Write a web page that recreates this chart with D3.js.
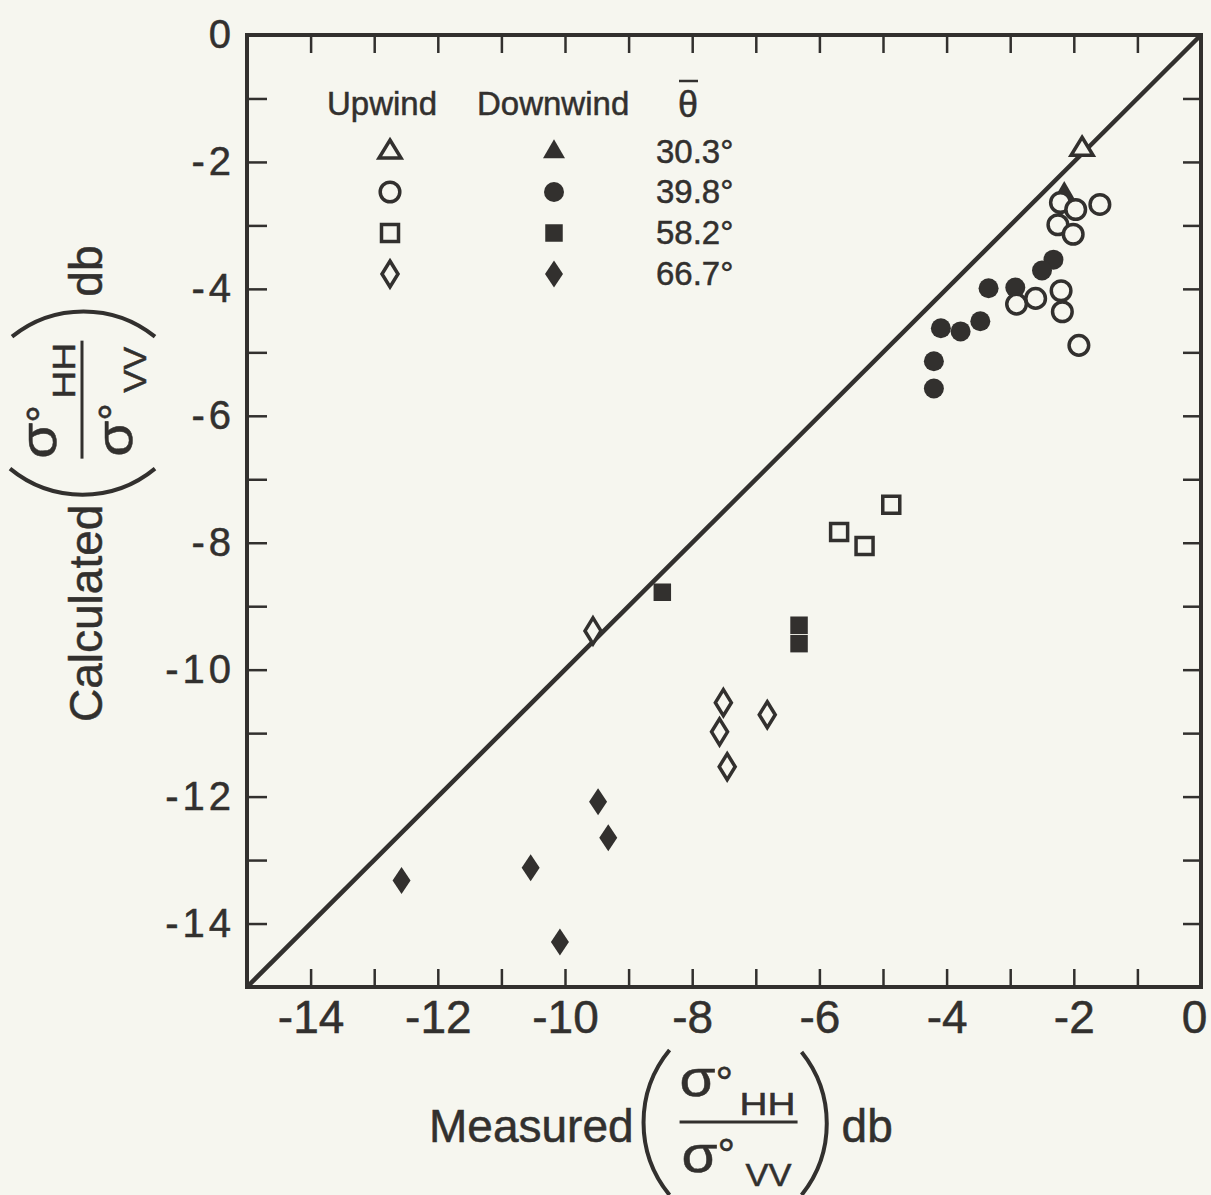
<!DOCTYPE html>
<html>
<head>
<meta charset="utf-8">
<script src="https://cdn.jsdelivr.net/npm/d3@7"></script>
<style>
body{margin:0;background:#f6f6ef;}
text{font-family:"Liberation Sans",Arial,Helvetica,sans-serif;fill:#32302e;stroke:#32302e;stroke-width:0.5px;}
</style>
</head>
<body>
<div id="chart"></div>
<script>
// mean incidence angle of each group
var angles = ["30.3°","39.8°","58.2°","66.7°"];

// [measured, calculated] sigmaHH/sigmaVV in db
var up30 = [[-1.87,-1.80]];
var down30 = [[-2.15,-2.50]];
var up39 = [[-2.21,-2.64],[-1.97,-2.75],[-1.59,-2.67],[-2.25,-2.99],[-2.01,-3.14],
            [-2.90,-4.24],[-2.60,-4.15],[-2.20,-4.03],[-2.18,-4.36],[-1.92,-4.89]];
var down39 = [[-2.32,-3.54],[-2.50,-3.71],[-3.34,-3.99],[-2.92,-3.98],[-3.47,-4.51],
              [-3.78,-4.67],[-4.09,-4.62],[-4.20,-5.14],[-4.20,-5.57]];
var up58 = [[-4.87,-7.40],[-5.69,-7.83],[-5.29,-8.05]];
var down58 = [[-8.47,-8.78],[-6.32,-9.30],[-6.32,-9.59]];
var up66 = [[-9.56,-9.39],[-7.51,-10.52],[-7.57,-10.98],[-7.45,-11.53],[-6.82,-10.71]];
var down66 = [[-9.48,-12.08],[-9.32,-12.65],[-10.54,-13.12],[-12.57,-13.32],[-10.08,-14.29]];

// one-to-one line
var diagonal = [[-15,-15],[0,0]];

var minorTicks = d3.range(-14, 0);
var xLabels = [-14,-12,-10,-8,-6,-4,-2,0];
var yLabels = [-14,-12,-10,-8,-6,-4,-2,0];

var w = 1211, h = 1195;
var ink = "#32302e", bg = "#f6f6ef";

var x = d3.scaleLinear().domain([-15,0]).range([247,1201]);
var y = d3.scaleLinear().domain([-15,0]).range([987,35]);

var svg = d3.select("#chart").append("svg")
	.attr("width", w)
	.attr("height", h)
	.style("background", bg);

// ticks on all four sides, pointing in
function ticks(g){
	g.select(".domain").remove();
	g.selectAll(".tick line").attr("stroke", ink).attr("stroke-width", 2.5);
}
svg.append("g").attr("transform","translate(0,"+y(-15)+")")
	.call(d3.axisBottom(x).tickValues(minorTicks).tickSize(-18).tickFormat("")).call(ticks);
svg.append("g").attr("transform","translate(0,"+y(0)+")")
	.call(d3.axisTop(x).tickValues(minorTicks).tickSize(-18).tickFormat("")).call(ticks);
svg.append("g").attr("transform","translate("+x(-15)+",0)")
	.call(d3.axisLeft(y).tickValues(minorTicks).tickSize(-20).tickFormat("")).call(ticks);
svg.append("g").attr("transform","translate("+x(0)+",0)")
	.call(d3.axisRight(y).tickValues(minorTicks).tickSize(-18).tickFormat("")).call(ticks);

// tick labels
var xl = svg.append("g").attr("transform","translate(0,"+y(-15)+")")
	.call(d3.axisBottom(x).tickValues(xLabels).tickSize(0).tickPadding(13).tickFormat(function(d){return String(d)}));
xl.select(".domain").remove();
xl.attr("font-family", null).attr("font-size", null);
xl.selectAll("text").style("font-size","46px").attr("fill", ink)
	.attr("dx", function(d){return d === 0 ? -7 : 0});

var yl = svg.append("g").attr("transform","translate("+x(-15)+",0)")
	.call(d3.axisLeft(y).tickValues(yLabels).tickSize(0).tickPadding(12).tickFormat(function(d){return String(d)}));
yl.select(".domain").remove();
yl.attr("font-family", null).attr("font-size", null);
yl.selectAll("text").style("font-size","40px").style("letter-spacing","4px").attr("fill", ink);

// frame
svg.append("rect")
	.attr("x", x(-15)).attr("y", y(0))
	.attr("width", x(0)-x(-15)).attr("height", y(-15)-y(0))
	.attr("fill","none").attr("stroke", ink).attr("stroke-width", 4);

var line = d3.line().x(function(d){return x(d[0])}).y(function(d){return y(d[1])});
svg.append("path").datum(diagonal)
	.attr("d", line)
	.attr("fill","none").attr("stroke", ink).attr("stroke-width", 4.5);

// marker shapes
function tri(wd, ht){ return "M0,"+(-2*ht/3)+"L"+(wd/2)+","+(ht/3)+"L"+(-wd/2)+","+(ht/3)+"Z"; }
function sq(s){ return "M"+(-s/2)+","+(-s/2)+"h"+s+"v"+s+"h"+(-s)+"Z"; }
function dia(hw, hh){ return "M0,"+(-hh)+"L"+hw+",0L0,"+hh+"L"+(-hw)+",0Z"; }
function circ(r){ return "M"+r+",0A"+r+","+r+" 0 1,1 "+(-r)+",0A"+r+","+r+" 0 1,1 "+r+",0Z"; }

var shapes = {
	tri: {open: tri(22,18), fill: tri(22,19)},
	circle: {open: circ(9.8), fill: circ(10)},
	square: {open: sq(17), fill: sq(17.5)},
	diamond: {open: dia(8,13), fill: dia(9,13.5)}
};

function marker(sel, shape, filled){
	sel.attr("d", filled ? shapes[shape].fill : shapes[shape].open)
		.attr("fill", filled ? ink : bg)
		.attr("stroke", filled ? "none" : ink)
		.attr("stroke-width", 3.5)
		.attr("stroke-linejoin","miter");
}

var series = [
	{pts: down30, shape: "tri", filled: true},
	{pts: down39, shape: "circle", filled: true},
	{pts: down58, shape: "square", filled: true},
	{pts: down66, shape: "diamond", filled: true},
	{pts: up30, shape: "tri", filled: false},
	{pts: up39, shape: "circle", filled: false},
	{pts: up58, shape: "square", filled: false},
	{pts: up66, shape: "diamond", filled: false}
];

series.forEach(function(s){
	svg.append("g").selectAll("path")
		.data(s.pts)
		.enter()
		.append("path")
		.attr("transform", function(d){return "translate("+x(d[0])+","+y(d[1])+")"})
		.call(marker, s.shape, s.filled);
});

// legend
var leg = svg.append("g");
leg.append("text").attr("x",327).attr("y",115).style("font-size","33px").text("Upwind");
leg.append("text").attr("x",477).attr("y",115).style("font-size","33px").text("Downwind");
leg.append("text").attr("x",688).attr("y",117).attr("text-anchor","middle").style("font-size","36px").text("θ");
leg.append("line").attr("x1",679).attr("x2",698).attr("y1",81).attr("y2",81)
	.attr("stroke", ink).attr("stroke-width", 2.5);

var legShapes = ["tri","circle","square","diamond"];
var rowY = [152, 192, 233, 274];
angles.forEach(function(a, i){
	leg.append("path").attr("transform","translate(390,"+rowY[i]+")").call(marker, legShapes[i], false);
	leg.append("path").attr("transform","translate(554,"+rowY[i]+")").call(marker, legShapes[i], true);
	leg.append("text").attr("x",656).attr("y",rowY[i]+11).style("font-size","33px").text(a);
});

// axis titles:  word ( σ°HH / σ°VV ) db
function ratioTitle(g, word){
	var t = g.append("text").attr("x",0).attr("y",0).style("font-size","46px").text(word);
	var tw = t.node().getComputedTextLength();
	g.append("path").attr("d","M"+(tw+36)+",-92A114,114 0 0,0 "+(tw+36)+",53")
		.attr("fill","none").attr("stroke",ink).attr("stroke-width",4);
	g.append("text").attr("x",tw+46).attr("y",-46).style("font-size","52px")
		.attr("textLength",36).attr("lengthAdjust","spacingAndGlyphs").text("σ");
	g.append("text").attr("x",tw+82).attr("y",-44).style("font-size","44px").text("°");
	g.append("text").attr("x",tw+106).attr("y",-27).style("font-size","32px")
		.attr("textLength",56).attr("lengthAdjust","spacingAndGlyphs").text("HH");
	g.append("line").attr("x1",tw+46).attr("x2",tw+164).attr("y1",-20).attr("y2",-20)
		.attr("stroke",ink).attr("stroke-width",3);
	g.append("text").attr("x",tw+48).attr("y",30).style("font-size","52px")
		.attr("textLength",36).attr("lengthAdjust","spacingAndGlyphs").text("σ");
	g.append("text").attr("x",tw+84).attr("y",28).style("font-size","44px").text("°");
	g.append("text").attr("x",tw+112).attr("y",44).style("font-size","31px")
		.attr("textLength",46).attr("lengthAdjust","spacingAndGlyphs").text("VV");
	g.append("path").attr("d","M"+(tw+168)+",-90A114,114 0 0,1 "+(tw+168)+",53")
		.attr("fill","none").attr("stroke",ink).attr("stroke-width",4);
	g.append("text").attr("x",tw+208).attr("y",0).style("font-size","46px").text("db");
}

ratioTitle(svg.append("g").attr("transform","translate(429,1142)"), "Measured");
ratioTitle(svg.append("g").attr("transform","translate(102,722) rotate(-90)"), "Calculated");
</script>
</body>
</html>
